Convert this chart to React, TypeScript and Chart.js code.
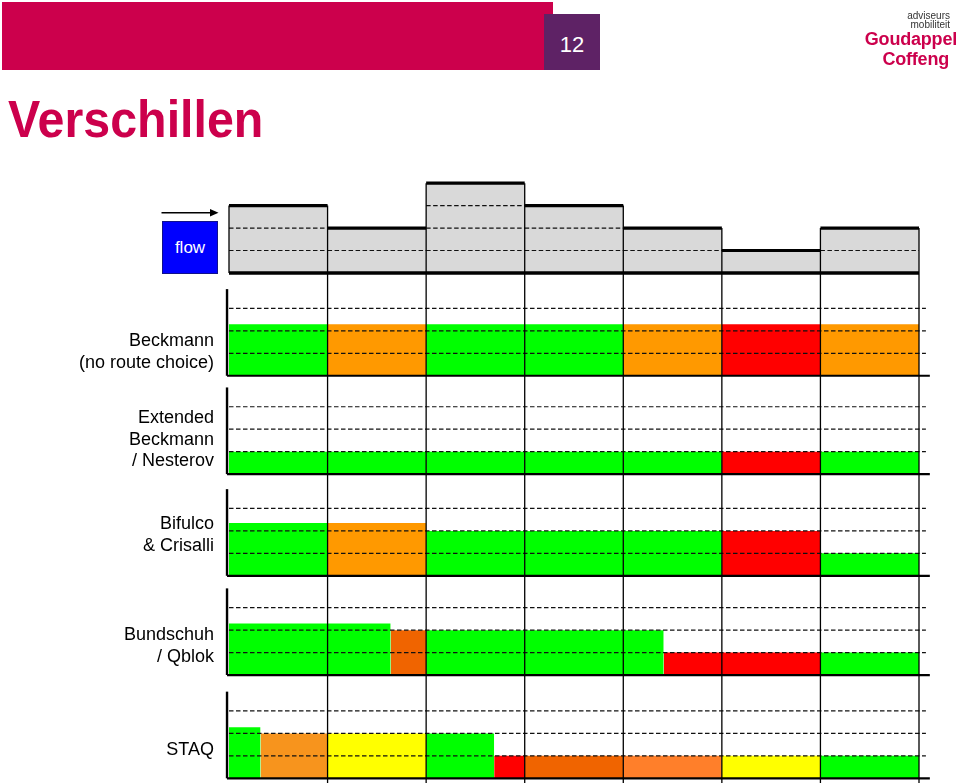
import React, { useEffect, useRef } from "react";
import { Chart, registerables } from "chart.js";

Chart.register(...registerables);

// ---------- DATA ----------
// seven road segments, flow level per segment (in grid units)
const segmentCount = 7;
const flowLevels = [3, 2, 4, 3, 2, 1, 2];

// Beckmann (no route choice)
const beckmannBreaks = [0, 1, 2, 3, 4, 5, 6, 7];
const beckmannLevels = [2.3, 2.3, 2.3, 2.3, 2.3, 2.3, 2.3];
const beckmannStates = ["free", "busy", "free", "free", "busy", "jam", "busy"];

// Extended Beckmann / Nesterov
const nesterovBreaks = [0, 1, 2, 3, 4, 5, 6, 7];
const nesterovLevels = [1, 1, 1, 1, 1, 1, 1];
const nesterovStates = ["free", "free", "free", "free", "free", "jam", "free"];

// Bifulco & Crisalli
const bifulcoBreaks = [0, 1, 2, 3, 4, 5, 6, 7];
const bifulcoLevels = [2.35, 2.35, 2, 2, 2, 2, 1];
const bifulcoStates = ["free", "busy", "free", "free", "free", "jam", "free"];

// Bundschuh / Qblok
const bundschuhBreaks = [0, 1.64, 2, 4.41, 6, 7];
const bundschuhLevels = [2.3, 2, 2, 1, 1];
const bundschuhStates = ["free", "queue", "free", "jam", "free"];

// STAQ
const staqBreaks = [0, 0.32, 1, 2, 2.69, 3, 4, 5, 6, 7];
const staqLevels = [2.27, 2, 2, 2, 1, 1, 1, 1, 1];
const staqStates = ["free", "busy2", "slow", "free", "jam", "queue", "spill", "slow", "free"];

const gridLevels = [1, 2, 3];

// ---------- STYLE / LAYOUT ----------
const palette: Record<string, string> = {
  free: "#00FF00",
  busy: "#FF9900",
  busy2: "#F7941D",
  jam: "#FF0000",
  queue: "#F06400",
  spill: "#FF7F2A",
  slow: "#FFFF00",
};
const FLOW_FILL = "#D9D9D9";
const CRIMSON = "#CC004C";
const FONT = "'Liberation Sans', Arial, Helvetica, sans-serif";
const DASH = [4.5, 2.5];

const W = 959;
const H = 783;
const PX_PER_UNIT = 22.45;
const ZERO_PX = 778.3;
const X0_PX = 229;
const SEG_PX = (919 - 229) / 7;
const X_MIN = -0.3;
const X_MAX = 7.4;
const Y_MIN = -(H - ZERO_PX) / PX_PER_UNIT;
const Y_MAX = ZERO_PX / PX_PER_UNIT;

const flowBase = 22.51;
const panelBases = [17.93, 13.55, 9.02, 4.6, 0];
const AXIS_TOP = 3.86;

function buildDatasets() {
  const ds: any[] = [];
  const rect = (x0: number, x1: number, base: number, level: number, color: string) =>
    ds.push({
      data: [
        { x: x0, y: base + level },
        { x: x1, y: base + level },
      ],
      fill: { value: base },
      backgroundColor: color,
      borderColor: "rgba(0,0,0,0)",
      borderWidth: 0,
      pointRadius: 0,
      order: 3,
      clip: false,
    });
  const line = (pts: { x: number; y: number }[], width: number, dash: number[], order: number, color = "#000") =>
    ds.push({
      data: pts,
      fill: false,
      borderColor: color,
      borderWidth: width,
      borderDash: dash,
      borderCapStyle: "butt",
      pointRadius: 0,
      order,
      clip: false,
    });

  // flow panel
  flowLevels.forEach((lv, i) => {
    rect(i, i + 1, flowBase, lv, FLOW_FILL);
    gridLevels.forEach((g) => {
      if (lv > g) line([{ x: i, y: flowBase + g }, { x: i + 1, y: flowBase + g }], 1.2, DASH, 2, "#111");
    });
    line([{ x: i, y: flowBase + lv }, { x: i + 1, y: flowBase + lv }], 3.2, [], 1);
  });
  line([{ x: 0, y: flowBase }, { x: segmentCount, y: flowBase }], 3.5, [], 1);
  line([{ x: 0, y: flowBase }, { x: 0, y: flowBase + flowLevels[0] }], 1.3, [], 1);
  for (let k = 1; k <= segmentCount; k++) {
    const top = Math.max(flowLevels[k - 1], k < segmentCount ? flowLevels[k] : 0);
    line([{ x: k, y: flowBase + top }, { x: k, y: Y_MIN }], 1.3, [], 0);
  }

  // method panels
  const methods = [
    [beckmannBreaks, beckmannLevels, beckmannStates],
    [nesterovBreaks, nesterovLevels, nesterovStates],
    [bifulcoBreaks, bifulcoLevels, bifulcoStates],
    [bundschuhBreaks, bundschuhLevels, bundschuhStates],
    [staqBreaks, staqLevels, staqStates],
  ] as [number[], number[], string[]][];
  methods.forEach(([breaks, levels, states], p) => {
    const base = panelBases[p];
    levels.forEach((lv, i) => rect(breaks[i], breaks[i + 1], base, lv, palette[states[i]]));
    gridLevels.forEach((g) =>
      line([{ x: 0, y: base + g }, { x: 7.07, y: base + g }], 1.2, DASH, 2, "#111")
    );
    line([{ x: -0.02, y: base }, { x: 7.11, y: base }], 2.2, [], 1);
    line([{ x: -0.02, y: base }, { x: -0.02, y: base + AXIS_TOP }], 2.4, [], 1);
  });
  return ds;
}

export default function App() {
  const ref = useRef<HTMLCanvasElement>(null);
  useEffect(() => {
    const chart = new Chart(ref.current!, {
      type: "line",
      data: { datasets: buildDatasets() },
      options: {
        animation: false,
        responsive: false,
        devicePixelRatio: 1,
        layout: {
          padding: {
            left: X0_PX + X_MIN * SEG_PX,
            right: W - (X0_PX + X_MAX * SEG_PX),
            top: 0,
            bottom: 0,
          },
        },
        plugins: { legend: { display: false }, tooltip: { enabled: false } },
        elements: { line: { tension: 0 }, point: { radius: 0 } },
        scales: {
          x: { type: "linear", min: X_MIN, max: X_MAX, display: false },
          y: { type: "linear", min: Y_MIN, max: Y_MAX, display: false },
        },
      },
    } as any);
    return () => chart.destroy();
  }, []);

  const label = (top: number, lines: string[]) => (
    <div
      style={{
        position: "absolute",
        left: 0,
        top,
        width: 214,
        textAlign: "right",
        fontSize: 18,
        lineHeight: "21.5px",
        color: "#000",
        whiteSpace: "nowrap",
      }}
    >
      {lines.map((l, i) => (
        <div key={i}>{l}</div>
      ))}
    </div>
  );

  return (
    <div
      style={{
        position: "fixed",
        left: 0,
        top: 0,
        width: W,
        height: H,
        background: "#fff",
        overflow: "hidden",
        fontFamily: FONT,
      }}
    >
      <canvas ref={ref} width={W} height={H} style={{ position: "absolute", left: 0, top: 0, width: W, height: H }} />

      {/* header */}
      <div style={{ position: "absolute", left: 2, top: 2, width: 551, height: 68, background: CRIMSON }} />
      <div style={{ position: "absolute", left: 544, top: 14, width: 56, height: 56, background: "#5E2265" }} />
      <div
        style={{
          position: "absolute",
          left: 544,
          top: 33,
          width: 56,
          textAlign: "center",
          color: "#fff",
          fontSize: 22,
          lineHeight: "24px",
        }}
      >
        12
      </div>

      {/* logo */}
      <div style={{ position: "absolute", right: 9, top: 11, textAlign: "right", color: "#333", fontSize: 10, lineHeight: "9px" }}>
        <div>adviseurs</div>
        <div>mobiliteit</div>
      </div>
      <div
        style={{
          position: "absolute",
          right: 2,
          top: 28.8,
          textAlign: "right",
          color: CRIMSON,
          fontSize: 18,
          fontWeight: "bold",
          lineHeight: "20px",
          letterSpacing: "-0.2px",
        }}
      >
        <div>Goudappel</div>
        <div style={{ marginRight: 8 }}>Coffeng</div>
      </div>

      {/* title */}
      <div
        style={{
          position: "absolute",
          left: 8,
          top: 93,
          fontSize: 52,
          lineHeight: "52px",
          fontWeight: "bold",
          color: CRIMSON,
          transform: "scaleX(0.93)",
          transformOrigin: "left top",
          whiteSpace: "nowrap",
        }}
      >
        Verschillen
      </div>

      {/* flow indicator */}
      <svg style={{ position: "absolute", left: 160, top: 206 }} width={62} height={14}>
        <line x1={1.5} y1={6.7} x2={52} y2={6.7} stroke="#000" strokeWidth={1.6} />
        <polygon points="50,3 58.5,6.7 50,10.4" fill="#000" />
      </svg>
      <div
        style={{
          position: "absolute",
          left: 162,
          top: 221,
          width: 56,
          height: 53,
          boxSizing: "border-box",
          background: "#0000FF",
          border: "1px solid #10108a",
          color: "#fff",
          fontSize: 17,
          lineHeight: "51px",
          textAlign: "center",
        }}
      >
        flow
      </div>

      {label(330.4, ["Beckmann", "(no route choice)"])}
      {label(407.4, ["Extended", "Beckmann", "/ Nesterov"])}
      {label(513.4, ["Bifulco", "& Crisalli"])}
      {label(624.4, ["Bundschuh", "/ Qblok"])}
      {label(739.4, ["STAQ"])}
    </div>
  );
}
